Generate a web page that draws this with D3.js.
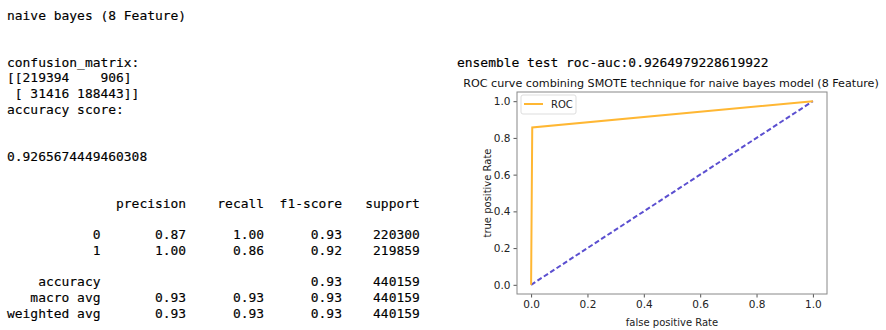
<!DOCTYPE html>
<html><head><meta charset="utf-8">
<script src="https://cdn.jsdelivr.net/npm/d3@7"></script>
<style>
body{margin:0;background:#fff;}
svg{display:block;}
text{white-space:pre;}
</style></head>
<body><svg id="c" width="886" height="330"></svg>
<script>
// ---- data ----
const modelTitle = "naive bayes (8 Feature)";
const confusionMatrix = [[219394, 906], [31416, 188443]];
const accuracyScore = "0.9265674449460308";
const reportHeaders = ["precision", "recall", "f1-score", "support"];
const reportRows = ["0", "1", "", "accuracy", "macro avg", "weighted avg"];
const precisionVals = ["0.87", "1.00", null, "", "0.93", "0.93"];
const recallVals = ["1.00", "0.86", null, "", "0.93", "0.93"];
const f1Vals = ["0.93", "0.92", null, "0.93", "0.93", "0.93"];
const supportVals = ["220300", "219859", null, "440159", "440159", "440159"];
const rocAuc = "0.9264979228619922";
const fpr = [0, 0.0041, 1];
const tpr = [0, 0.8571, 1];
const diagX = [0, 1];
const diagY = [0, 1];
const ticks = [0, 0.2, 0.4, 0.6, 0.8, 1.0];

const svg = d3.select("#c");
const mono = "'DejaVu Sans Mono', monospace";
const fs = 12.95;
const lh = 15.7, y0 = 15, x0 = 7;
function line(i, s, x) {
  svg.append("text").attr("x", x ?? x0).attr("y", y0 + i * lh)
    .attr("dominant-baseline", "central")
    .attr("font-family", mono).attr("font-size", fs).attr("fill", "#000")
    .attr("stroke", "#000").attr("stroke-width", 0.15)
    .text(s);
}
const pad = (s, n) => String(s).padStart(n, " ");
line(0, modelTitle);
line(3, "confusion_matrix:");
line(4, "[[" + pad(confusionMatrix[0][0], 6) + " " + pad(confusionMatrix[0][1], 6) + "]");
line(5, " [" + pad(confusionMatrix[1][0], 6) + " " + pad(confusionMatrix[1][1], 6) + "]]");
line(6, "accuracy score:");
line(9, accuracyScore);
line(12, pad("", 12) + " " + reportHeaders.map(h => " " + pad(h, 9)).join(""));
reportRows.forEach((r, i) => {
  if (precisionVals[i] === null) return;
  const s = pad(r, 12) + " " + [precisionVals[i], recallVals[i], f1Vals[i], supportVals[i]].map(v => " " + pad(v, 9)).join("");
  line(14 + i, s);
});
line(3, "ensemble test roc-auc:" + rocAuc, 457);

// ---- ROC plot ----
const L = 517, R = 827, T = 92, B = 294;
const x = d3.scaleLinear().domain([-0.05, 1.05]).range([L, R]);
const y = d3.scaleLinear().domain([-0.05, 1.05]).range([B, T]);
const sans = "'DejaVu Sans', sans-serif";
const g = svg.append("g");

const pts = fpr.map((f, i) => [f, tpr[i]]);
const lineGen = d3.line().x(d => x(d[0])).y(d => y(d[1]));
g.append("path").attr("d", lineGen(diagX.map((v, i) => [v, diagY[i]])))
  .attr("fill", "none").attr("stroke", "#5b4fd0").attr("stroke-width", 2)
  .attr("stroke-dasharray", "5,2.6");
g.append("path").attr("d", lineGen(pts))
  .attr("fill", "none").attr("stroke", "#ffb733").attr("stroke-width", 2);

const xa = g.append("g").attr("transform", `translate(0,${B})`)
  .call(d3.axisBottom(x).tickValues(ticks).tickFormat(d3.format(".1f")).tickSize(3.5).tickPadding(3));
const ya = g.append("g").attr("transform", `translate(${L},0)`)
  .call(d3.axisLeft(y).tickValues(ticks).tickFormat(d3.format(".1f")).tickSize(3.5).tickPadding(3));
[xa, ya].forEach(a => {
  a.select(".domain").remove();
  a.selectAll("line").attr("stroke", "#555");
  a.selectAll("text").attr("font-family", sans).attr("font-size", 10.5).attr("fill", "#222");
});
g.append("rect").attr("x", L).attr("y", T).attr("width", R - L).attr("height", B - T)
  .attr("fill", "none").attr("stroke", "#888").attr("stroke-width", 1);

// legend
g.append("rect").attr("x", 521).attr("y", 95).attr("width", 55).attr("height", 19)
  .attr("fill", "#fff").attr("stroke", "#ddd").attr("rx", 2);
g.append("line").attr("x1", 524).attr("x2", 543).attr("y1", 104).attr("y2", 104)
  .attr("stroke", "#ffb733").attr("stroke-width", 2);
g.append("text").attr("x", 551).attr("y", 104.5).attr("dominant-baseline", "central")
  .attr("font-family", sans).attr("font-size", 10).attr("fill", "#222").text("ROC");

// titles
const title = g.append("text").attr("x", (L + R) / 2 - 1).attr("y", 83).attr("text-anchor", "middle")
  .attr("dominant-baseline", "central").attr("font-family", sans).attr("font-size", 12).attr("fill", "#111")
  .text("ROC curve combining SMOTE technique for naive bayes model (8 Feature)");
const tw = title.node().getComputedTextLength();
title.attr("font-size", 12 * 416 / tw);
g.append("text").attr("x", (L + R) / 2).attr("y", 322.5).attr("text-anchor", "middle")
  .attr("dominant-baseline", "central").attr("font-family", sans).attr("font-size", 10).attr("fill", "#222")
  .text("false positive Rate");
g.append("text").attr("transform", `translate(487,${(T + B) / 2}) rotate(-90)`).attr("text-anchor", "middle")
  .attr("dominant-baseline", "central").attr("font-family", sans).attr("font-size", 10).attr("fill", "#222")
  .text("true positive Rate");
</script></body></html>
